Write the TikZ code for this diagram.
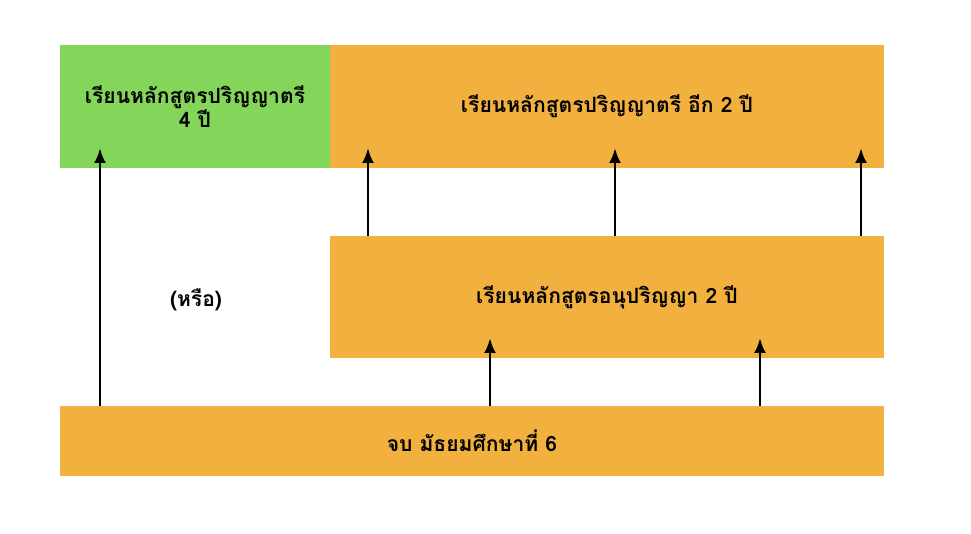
\documentclass[tikz,border=0pt]{standalone}
\usepackage{fontspec}
\newfontfamily\thaifont[Script=Thai]{Loma}
\usetikzlibrary{arrows.meta}
\definecolor{boxgreen}{HTML}{84D65A}
\definecolor{boxorange}{HTML}{F2B13F}
\tikzset{>={Latex[width=2.4mm,length=3mm]}}
\tikzset{box/.style={draw=none,inner sep=0pt,align=center,font=\thaifont\bfseries\large},
	up/.style={->,line width=1.6pt}}

\begin{document}
\begin{tikzpicture}[x=0.02cm,y=-0.02cm]
		\useasboundingbox (0,0) rectangle (971,534);
		
		% boxes
		\node(Four) [box,fill=boxgreen,minimum width=270*0.02cm,minimum height=123*0.02cm] at (195,106.5) {เรียนหลักสูตรปริญญาตรี\\4 ปี};
		\node(Two) [box,fill=boxorange,minimum width=554*0.02cm,minimum height=123*0.02cm] at (607,106.5) {เรียนหลักสูตรปริญญาตรี อีก 2 ปี};
		\node(Dip) [box,fill=boxorange,minimum width=554*0.02cm,minimum height=122*0.02cm] at (607,297) {เรียนหลักสูตรอนุปริญญา 2 ปี};
		\node(End) [box,fill=boxorange,minimum width=824*0.02cm,minimum height=70*0.02cm] at (472,441) {จบ มัธยมศึกษาที่ 6};
		
		\node(Or) [font=\thaifont\bfseries\large] at (196,300) {(หรือ)};
		
		% arrows
		\draw[up] (End.north -| 100,0) -- (100,148);
		\foreach \x in {368,615,861}
			\draw[up] (Dip.north -| \x,0) -- (\x,148);
		\foreach \x in {490,760}
			\draw[up] (End.north -| \x,0) -- (\x,338);
	\end{tikzpicture}
\end{document}
